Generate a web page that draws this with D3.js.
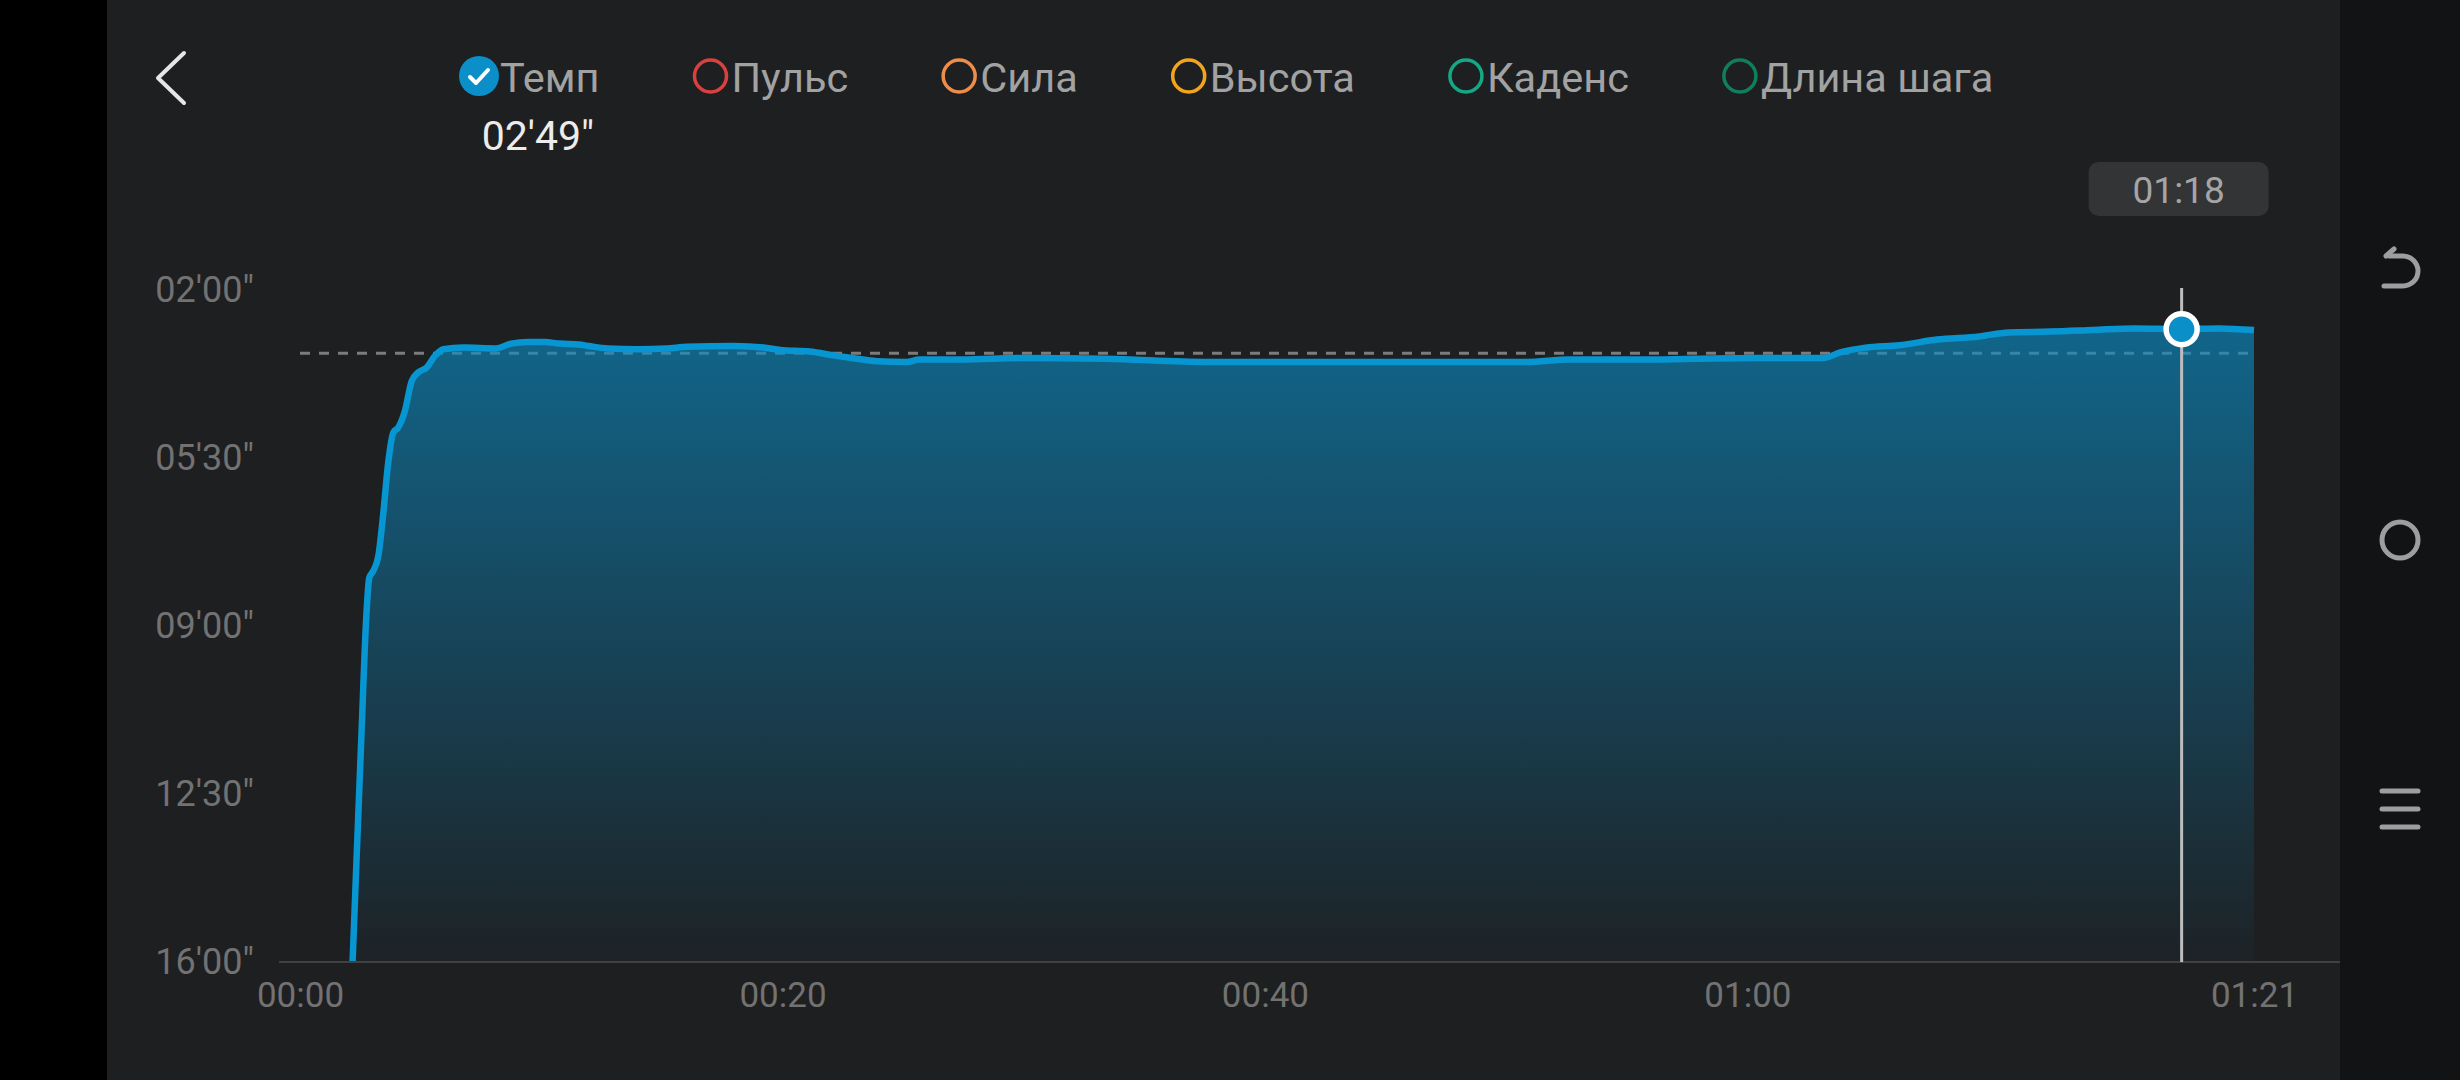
<!DOCTYPE html>
<html><head><meta charset="utf-8">
<script src="https://cdn.jsdelivr.net/npm/d3@7/dist/d3.min.js"></script>
<style>html,body{margin:0;padding:0;background:#1e1f21;}svg{display:block;}</style>
</head><body>
<svg id="chart" width="2460" height="1080"></svg>
<script>
// ---- data ----
const timeMin = [2.18,2.35,2.56,2.74,2.87,3.04,3.25,3.45,3.66,3.87,4.07,4.35,4.63,4.90,5.25,5.60,5.94,6.77,
  8.12,8.75,9.44,10.14,10.75,11.54,11.97,12.76,13.98,15.20,16.07,17.99,19.21,19.91,21.13,22.18,22.88,23.92,25.14,25.67,27.41,
  29.93,33.41,37.60,40.41,45.64,50.86,52.60,55.54,
  57.74,60.35,63.15,63.85,64.90,66.30,67.86,69.61,70.83,72.58,74.32,76.06,78.0,79.54,81.0];
const paceSec = [960,827,666,533,480,471,452,400,335,298,292,271,234,223,217,202,194,192,
  193,187,185,185,187,188,190,193,194,193,191,190,192,195,197,202,205,209,210,207,207,
  205,206,210,210,210,210,207,207,
  206,205,205,198,192,189,182,178,173,172,170,168,169,168,170];
const yTicks = [120,330,540,750,960];
const yTickLabels = ["02'00\"","05'30\"","09'00\"","12'30\"","16'00\""];
const xTicks = [0,20,40,60,81];
const xTickLabels = ["00:00","00:20","00:40","01:00","01:21"];
const avgPace = 199;
const selectedTime = 78;
const selectedPace = 169;
const selectedTimeLabel = "01:18";
const selectedPaceLabel = "02'49\"";
const legendLabels = ["Темп","Пульс","Сила","Высота","Каденс","Длина шага"];
const legendColors = ["#0a8fc8","#d8413f","#ee8c4a","#f2a51c","#15a884","#0f7f5e"];

// ---- layout ----
const W = 2460, H = 1080;
const svg = d3.select("#chart");
const FONT = "Roboto, 'Noto Sans', sans-serif";

svg.append("rect").attr("width", W).attr("height", H).attr("fill", "#1e1f21");
svg.append("rect").attr("x", 0).attr("y", 0).attr("width", 107).attr("height", H).attr("fill", "#000");
svg.append("rect").attr("x", 2340).attr("y", 0).attr("width", 120).attr("height", H).attr("fill", "#121314");

const x = d3.scaleLinear().domain([0, 81]).range([300, 2254]);
const y = d3.scaleLinear().domain([120, 960]).range([290, 962]);

const defs = svg.append("defs");
const grad = defs.append("linearGradient").attr("id", "fillGrad")
  .attr("gradientUnits", "userSpaceOnUse")
  .attr("x1", 0).attr("x2", 0).attr("y1", y(120)).attr("y2", y(960));
grad.append("stop").attr("offset", "0%").attr("stop-color", "#0a8cc4").attr("stop-opacity", 0.68);
grad.append("stop").attr("offset", "100%").attr("stop-color", "#0a8cc4").attr("stop-opacity", 0.03);

// back arrow
svg.append("path").attr("d", "M184,53 L158,78 L184,103")
  .attr("fill", "none").attr("stroke", "#e6e6e6").attr("stroke-width", 4)
  .attr("stroke-linecap", "round").attr("stroke-linejoin", "round");

// legend
const legendG = svg.append("g").attr("font-family", FONT).attr("font-size", 41.5);
let cx = 479;
const cy = 76;
legendLabels.forEach((lab, i) => {
  const col = legendColors[i];
  if (i === 0) {
    legendG.append("circle").attr("cx", cx).attr("cy", cy).attr("r", 20).attr("fill", col);
    legendG.append("path").attr("d", `M${cx-9},${cy+1} L${cx-3},${cy+7} L${cx+9},${cy-6}`)
      .attr("fill", "none").attr("stroke", "#fff").attr("stroke-width", 4)
      .attr("stroke-linecap", "round").attr("stroke-linejoin", "round");
  } else {
    legendG.append("circle").attr("cx", cx).attr("cy", cy).attr("r", 16)
      .attr("fill", "none").attr("stroke", col).attr("stroke-width", 3.5);
  }
  const t = legendG.append("text").attr("x", cx + 21).attr("y", 92)
    .attr("fill", "#a2a2a2").text(lab);
  const w = t.node().getComputedTextLength();
  cx = cx + 21 + w + 93 + 18;
});
svg.append("text").attr("x", 538).attr("y", 150).attr("text-anchor", "middle")
  .attr("font-family", FONT).attr("font-size", 41).attr("fill", "#ececec").text(selectedPaceLabel);

// avg dashed line (under area)
svg.append("line").attr("x1", x(0)).attr("x2", x(81)).attr("y1", y(avgPace)).attr("y2", y(avgPace))
  .attr("stroke", "#7c7c7c").attr("stroke-width", 3).attr("stroke-dasharray", "10,9");

// area + line
const area = d3.area().x((d, i) => x(timeMin[i])).y0(y(960)).y1((d, i) => y(paceSec[i]))
  .curve(d3.curveMonotoneX);
const line = d3.line().x((d, i) => x(timeMin[i])).y((d, i) => y(paceSec[i]))
  .curve(d3.curveMonotoneX);
svg.append("path").datum(paceSec).attr("d", area).attr("fill", "url(#fillGrad)");
svg.append("path").datum(paceSec).attr("d", line).attr("fill", "none")
  .attr("stroke", "#0896d2").attr("stroke-width", 6.5).attr("stroke-linejoin", "round");

// baseline
svg.append("line").attr("x1", 279).attr("x2", 2340).attr("y1", y(960)).attr("y2", y(960))
  .attr("stroke", "#404143").attr("stroke-width", 2);

// axes
const yAxis = d3.axisLeft(y).tickValues(yTicks).tickFormat((d, i) => yTickLabels[i])
  .tickSize(0).tickPadding(8);
const gy = svg.append("g").attr("transform", "translate(262,0)").call(yAxis);
gy.select(".domain").remove();
gy.selectAll("text").attr("font-family", FONT).attr("font-size", 36).attr("fill", "#727272");

const xAxis = d3.axisBottom(x).tickValues(xTicks).tickFormat((d, i) => xTickLabels[i])
  .tickSize(0).tickPadding(20);
const gx = svg.append("g").attr("transform", `translate(0,${y(960)})`).call(xAxis);
gx.select(".domain").remove();
gx.selectAll("text").attr("font-family", FONT).attr("font-size", 35).attr("fill", "#727272");

// cursor
const sx = x(selectedTime);
svg.append("line").attr("x1", sx).attr("x2", sx).attr("y1", 288).attr("y2", y(960))
  .attr("stroke", "#bdbdbd").attr("stroke-width", 3);
svg.append("circle").attr("cx", sx).attr("cy", y(selectedPace)).attr("r", 15.5)
  .attr("fill", "#0a8fc8").attr("stroke", "#fff").attr("stroke-width", 5.5);

// tooltip
svg.append("rect").attr("x", sx - 93).attr("y", 162).attr("width", 180).attr("height", 54)
  .attr("rx", 10).attr("fill", "#333436");
svg.append("text").attr("x", sx - 3).attr("y", 190).attr("dy", "0.36em").attr("text-anchor", "middle")
  .attr("font-family", FONT).attr("font-size", 37).attr("fill", "#a5a5a5").text(selectedTimeLabel);

// nav icons
const nav = svg.append("g").attr("fill", "none").attr("stroke", "#9e9e9e").attr("stroke-width", 5)
  .attr("stroke-linecap", "round").attr("stroke-linejoin", "round");
nav.append("path").attr("d", "M2384,286 H2403 A15,15 0 0 0 2403,256 H2389");
nav.append("path").attr("d", "M2394,249 L2386,256");
nav.append("circle").attr("cx", 2400).attr("cy", 540).attr("r", 18);
[791, 809, 827].forEach(v => nav.append("line").attr("x1", 2382).attr("x2", 2418).attr("y1", v).attr("y2", v));
</script>
</body></html>
